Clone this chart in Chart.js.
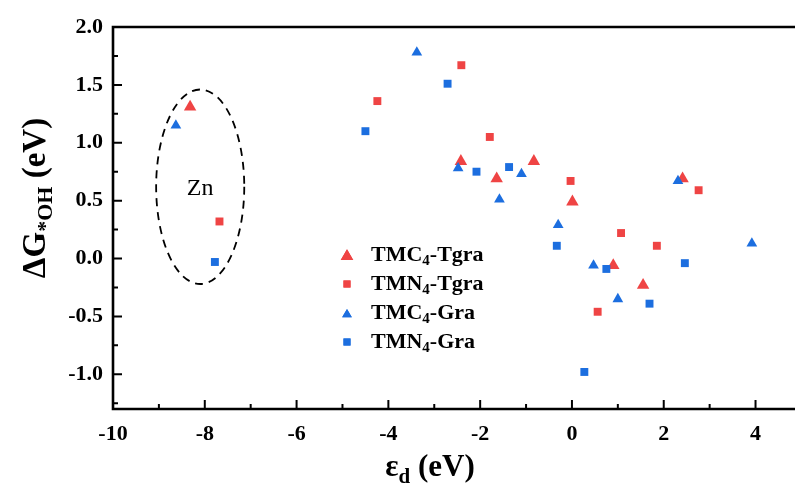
<!DOCTYPE html>
<html>
<head>
<meta charset="utf-8">
<script src="https://cdn.jsdelivr.net/npm/chart.js@4.4.1/dist/chart.umd.min.js"></script>
<style>
  html, body { margin: 0; padding: 0; background: #ffffff; }
  #wrap { width: 795px; height: 487px; position: relative; }
</style>
</head>
<body>
<div id="wrap"><canvas id="c" width="795" height="487"></canvas></div>
<script>
// ---- data ----
const seriesNames = ['TMC4-Tgra', 'TMN4-Tgra', 'TMC4-Gra', 'TMN4-Gra'];

const tmc4TgraX = [-8.32, -2.42, -1.64, -0.83, 0.01, 2.41, 0.90, 1.55];
const tmc4TgraY = [ 1.31,  0.84,  0.69,  0.84, 0.49, 0.69, -0.06, -0.23];

const tmn4TgraX = [-7.68, -4.24, -2.41, -1.79, -0.03, 2.76, 1.07, 1.85, 0.56];
const tmn4TgraY = [ 0.32,  1.36,  1.67,  1.05,  0.67, 0.59, 0.22, 0.11, -0.46];

const tmc4GraX = [-8.63, -3.38, -2.48, -1.10, -1.58, 2.31, -0.30, 3.92, 0.47, 1.00];
const tmc4GraY = [ 1.15,  1.78,  0.78,  0.73,  0.51, 0.67,  0.29, 0.13, -0.06, -0.35];

const tmn4GraX = [-7.78, -4.50, -2.71, -2.08, -1.37, -0.33, 0.75, 2.46, 1.69, 0.27];
const tmn4GraY = [-0.03,  1.10,  1.51,  0.75,  0.79,  0.11, -0.09, -0.04, -0.39, -0.98];

const xTicks = [-10, -8, -6, -4, -2, 0, 2, 4];
const xMinorTicks = [-9, -7, -5, -3, -1, 1, 3];
const yTicks = [-1.0, -0.5, 0.0, 0.5, 1.0, 1.5, 2.0];
const yMinorTicks = [-1.25, -0.75, -0.25, 0.25, 0.75, 1.25, 1.75];
const xRange = [-10, 4.86];
const yRange = [-1.3, 2.0];

const znLabel = 'Zn';
const znEllipseCenter = [-8.10, 0.62];
const znEllipseRadii = [0.96, 0.84];

// ---- styles ----
const RED = '#EF4444';
const BLUE = '#1C6EDF';
const SERIF = '"Liberation Serif", "Times New Roman", serif';

function pts(xs, ys) { return xs.map((x, i) => ({ x: x, y: ys[i] })); }

const datasets = [
  { label: seriesNames[0], data: pts(tmc4TgraX, tmc4TgraY), pointStyle: 'triangle', pointRadius: 7.2,
    backgroundColor: RED, borderColor: RED, borderWidth: 0, order: 4 },
  { label: seriesNames[1], data: pts(tmn4TgraX, tmn4TgraY), pointStyle: 'rect', pointRadius: 5.6,
    backgroundColor: RED, borderColor: RED, borderWidth: 0, order: 3 },
  { label: seriesNames[2], data: pts(tmc4GraX, tmc4GraY), pointStyle: 'triangle', pointRadius: 6.2,
    backgroundColor: BLUE, borderColor: BLUE, borderWidth: 0, order: 2 },
  { label: seriesNames[3], data: pts(tmn4GraX, tmn4GraY), pointStyle: 'rect', pointRadius: 5.6,
    backgroundColor: BLUE, borderColor: BLUE, borderWidth: 0, order: 1 }
];
const legendRadii = [7.2, 5.0, 5.6, 5.0];

// draw text with subscript pieces: parts = [[text, isSub], ...]
function drawRich(ctx, parts, x, y, size, subSize, subDrop, bold) {
  let cx = x;
  parts.forEach(([t, sub]) => {
    ctx.font = (bold ? 'bold ' : '') + (sub ? subSize : size) + 'px ' + SERIF;
    ctx.fillText(t, cx, sub ? y + subDrop : y);
    cx += ctx.measureText(t).width;
  });
  return cx - x;
}
function measureRich(ctx, parts, size, subSize, bold) {
  let w = 0;
  parts.forEach(([t, sub]) => {
    ctx.font = (bold ? 'bold ' : '') + (sub ? subSize : size) + 'px ' + SERIF;
    w += ctx.measureText(t).width;
  });
  return w;
}

const decor = {
  id: 'decor',
  afterDraw(chart) {
    const ctx = chart.ctx;
    const xs = chart.scales.x, ys = chart.scales.y;
    const a = chart.chartArea;
    const W = chart.width;
    ctx.save();
    // frame (left, bottom, top)
    ctx.strokeStyle = '#000';
    ctx.lineWidth = 2.6;
    ctx.lineCap = 'square';
    ctx.beginPath();
    ctx.moveTo(W + 5, a.top);
    ctx.lineTo(a.left, a.top);
    ctx.lineTo(a.left, a.bottom);
    ctx.lineTo(W + 5, a.bottom);
    ctx.stroke();
    // inward ticks
    ctx.lineWidth = 2;
    ctx.lineCap = 'butt';
    ctx.beginPath();
    xTicks.forEach(v => { const p = xs.getPixelForValue(v); ctx.moveTo(p, a.bottom); ctx.lineTo(p, a.bottom - 9); });
    xMinorTicks.forEach(v => { const p = xs.getPixelForValue(v); ctx.moveTo(p, a.bottom); ctx.lineTo(p, a.bottom - 5); });
    yTicks.forEach(v => { const p = ys.getPixelForValue(v); ctx.moveTo(a.left, p); ctx.lineTo(a.left + 9, p); });
    yMinorTicks.forEach(v => { const p = ys.getPixelForValue(v); ctx.moveTo(a.left, p); ctx.lineTo(a.left + 5, p); });
    ctx.stroke();

    // Zn dashed ellipse
    const ecx = xs.getPixelForValue(znEllipseCenter[0]);
    const ecy = ys.getPixelForValue(znEllipseCenter[1]);
    const erx = Math.abs(xs.getPixelForValue(znEllipseCenter[0] + znEllipseRadii[0]) - ecx);
    const ery = Math.abs(ys.getPixelForValue(znEllipseCenter[1] + znEllipseRadii[1]) - ecy);
    ctx.setLineDash([8, 6]);
    ctx.lineWidth = 1.8;
    ctx.beginPath();
    ctx.ellipse(ecx, ecy, erx, ery, 0, 0, Math.PI * 2);
    ctx.stroke();
    ctx.setLineDash([]);

    // Zn label
    ctx.fillStyle = '#000';
    ctx.font = '24px ' + SERIF;
    ctx.textAlign = 'center';
    ctx.textBaseline = 'middle';
    ctx.fillText(znLabel, ecx, ecy + 2);

    // legend
    const lx = 347, ly0 = 255, dy = 29;
    ctx.textAlign = 'left';
    ctx.textBaseline = 'middle';
    datasets.forEach((ds, i) => {
      const y = ly0 + i * dy;
      ctx.fillStyle = ds.backgroundColor;
      ctx.strokeStyle = ds.backgroundColor;
      Chart.helpers.drawPoint(ctx, { pointStyle: ds.pointStyle, radius: legendRadii[i], borderWidth: 0, rotation: 0 }, lx, y + (ds.pointStyle === 'triangle' ? 1.5 : 0));
      ctx.fill();
      const m = ds.label.match(/^(TM[CN])(4)(-.*)$/);
      ctx.fillStyle = '#000';
      drawRich(ctx, [[m[1], false], [m[2], true], [m[3], false]], lx + 24, y, 22, 15, 6, true);
    });

    // x axis title: eps_d (eV)
    const xParts = [['\u03B5', false], ['d', true], [' (eV)', false]];
    const xw = measureRich(ctx, xParts, 31, 21, true);
    ctx.fillStyle = '#000';
    ctx.textBaseline = 'alphabetic';
    drawRich(ctx, xParts, 430 - xw / 2, 476, 31, 21, 7, true);

    // y axis title: Delta G_*OH (eV)
    const yParts = [['\u0394G', false], ['*OH', true], [' (eV)', false]];
    const yw = measureRich(ctx, yParts, 33, 22, true);
    ctx.save();
    ctx.translate(45, 198);
    ctx.rotate(-Math.PI / 2);
    drawRich(ctx, yParts, -yw / 2, 0, 33, 22, 7, true);
    ctx.restore();

    ctx.restore();
  }
};

new Chart(document.getElementById('c'), {
  type: 'scatter',
  data: { datasets: datasets },
  options: {
    responsive: false,
    animation: false,
    devicePixelRatio: 1,
    layout: { autoPadding: false, padding: { top: 27, right: 0, left: 0, bottom: 0 } },
    plugins: { legend: { display: false }, tooltip: { enabled: false } },
    scales: {
      x: {
        type: 'linear', min: xRange[0], max: xRange[1],
        grid: { display: false, drawTicks: false },
        border: { display: false },
        afterBuildTicks: s => { s.ticks = xTicks.map(v => ({ value: v })); },
        afterFit: s => { s.height = 78; s.paddingLeft = 0; s.paddingRight = 0; },
        ticks: {
          color: '#000', padding: 12,
          font: { family: SERIF, size: 22, weight: 'bold' },
          callback: v => String(v)
        }
      },
      y: {
        type: 'linear', min: yRange[0], max: yRange[1],
        grid: { display: false, drawTicks: false },
        border: { display: false },
        afterBuildTicks: s => { s.ticks = yTicks.map(v => ({ value: v })); },
        afterFit: s => { s.width = 113; s.paddingTop = 0; s.paddingBottom = 0; },
        ticks: {
          color: '#000', padding: 10,
          font: { family: SERIF, size: 22, weight: 'bold' },
          callback: v => Number(v).toFixed(1)
        }
      }
    }
  },
  plugins: [decor]
});
</script>
</body>
</html>
